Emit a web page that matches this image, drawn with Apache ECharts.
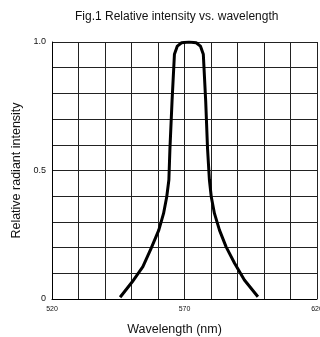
<!DOCTYPE html>
<html><head><meta charset="utf-8">
<script src="https://cdn.jsdelivr.net/npm/echarts@6/dist/echarts.min.js"></script>
<style>html,body{margin:0;padding:0;background:#fff}#c{width:320px;height:337px}</style>
</head><body><div id="c"></div>
<script>
var titleText = "Fig.1 Relative intensity vs. wavelength";
var xName = "Wavelength (nm)";
var yName = "Relative radiant intensity";
var wavelengths = [545.7, 550.3, 554.3, 557.4, 560.3, 562.1, 563.3, 564.1, 564.5, 565.3, 566.2, 567.3, 568.9, 571.7, 574.4, 576.0, 577.1, 578.0, 578.7, 579.4, 580.1, 581.3, 583.2, 585.7, 588.9, 592.6, 597.7];
var intensity   = [0.007, 0.067, 0.126, 0.197, 0.268, 0.333, 0.398, 0.463, 0.584, 0.77, 0.952, 0.984, 0.997, 1.0, 0.997, 0.984, 0.952, 0.77, 0.584, 0.463, 0.398, 0.333, 0.268, 0.203, 0.139, 0.074, 0.009];
var yTickLabels = {"0": "0", "0.5": "0.5", "1": "1.0"};
var xTickLabels = [520, 570, 620];

var pts = wavelengths.map(function (w, i) { return [w, intensity[i]]; });
var chart = echarts.init(document.getElementById('c'), null, {renderer: 'canvas'});
chart.setOption({
  animation: false,
  backgroundColor: '#fff',
  title: {
    text: titleText, left: 70, top: 6,
    textStyle: {fontFamily: 'Liberation Sans', fontSize: 12, fontWeight: 'normal', color: '#111'}
  },
  grid: {left: 52, right: 3, top: 42, bottom: 38, show: false, containLabel: false, outerBoundsMode: 'none'},
  xAxis: {
    type: 'value', min: 520, max: 620, interval: 10,
    name: xName, nameLocation: 'middle', nameGap: 24,
    nameTextStyle: {fontFamily: 'Liberation Sans', fontSize: 12.5, color: '#111', padding: [0, 20, 0, 0]},
    axisLine: {show: true, lineStyle: {color: '#000', width: 1}},
    axisTick: {show: false},
    splitLine: {show: true, lineStyle: {color: '#222', width: 1}},
    axisLabel: {
      fontFamily: 'Liberation Sans', fontSize: 7, color: '#111', margin: 7,
      formatter: function (v) { return xTickLabels.indexOf(Math.round(v)) >= 0 ? String(Math.round(v)) : ''; }
    }
  },
  yAxis: {
    type: 'value', min: 0, max: 1, interval: 0.1,
    name: yName, nameLocation: 'middle', nameGap: 28, nameRotate: 90,
    nameTextStyle: {fontFamily: 'Liberation Sans', fontSize: 12.5, color: '#111'},
    axisLine: {show: true, lineStyle: {color: '#000', width: 1}},
    axisTick: {show: false},
    splitLine: {show: true, lineStyle: {color: '#222', width: 1}},
    axisLabel: {
      fontFamily: 'Liberation Sans', fontSize: 9, color: '#111', margin: 6,
      formatter: function (v) {
        var k = String(Math.round(v * 10) / 10);
        return yTickLabels[k] !== undefined ? yTickLabels[k] : '';
      }
    }
  },
  series: [{
    type: 'line', data: pts, showSymbol: false, smooth: false,
    lineStyle: {color: '#000', width: 3, join: 'round', cap: 'butt'}
  }]
});
</script></body></html>
